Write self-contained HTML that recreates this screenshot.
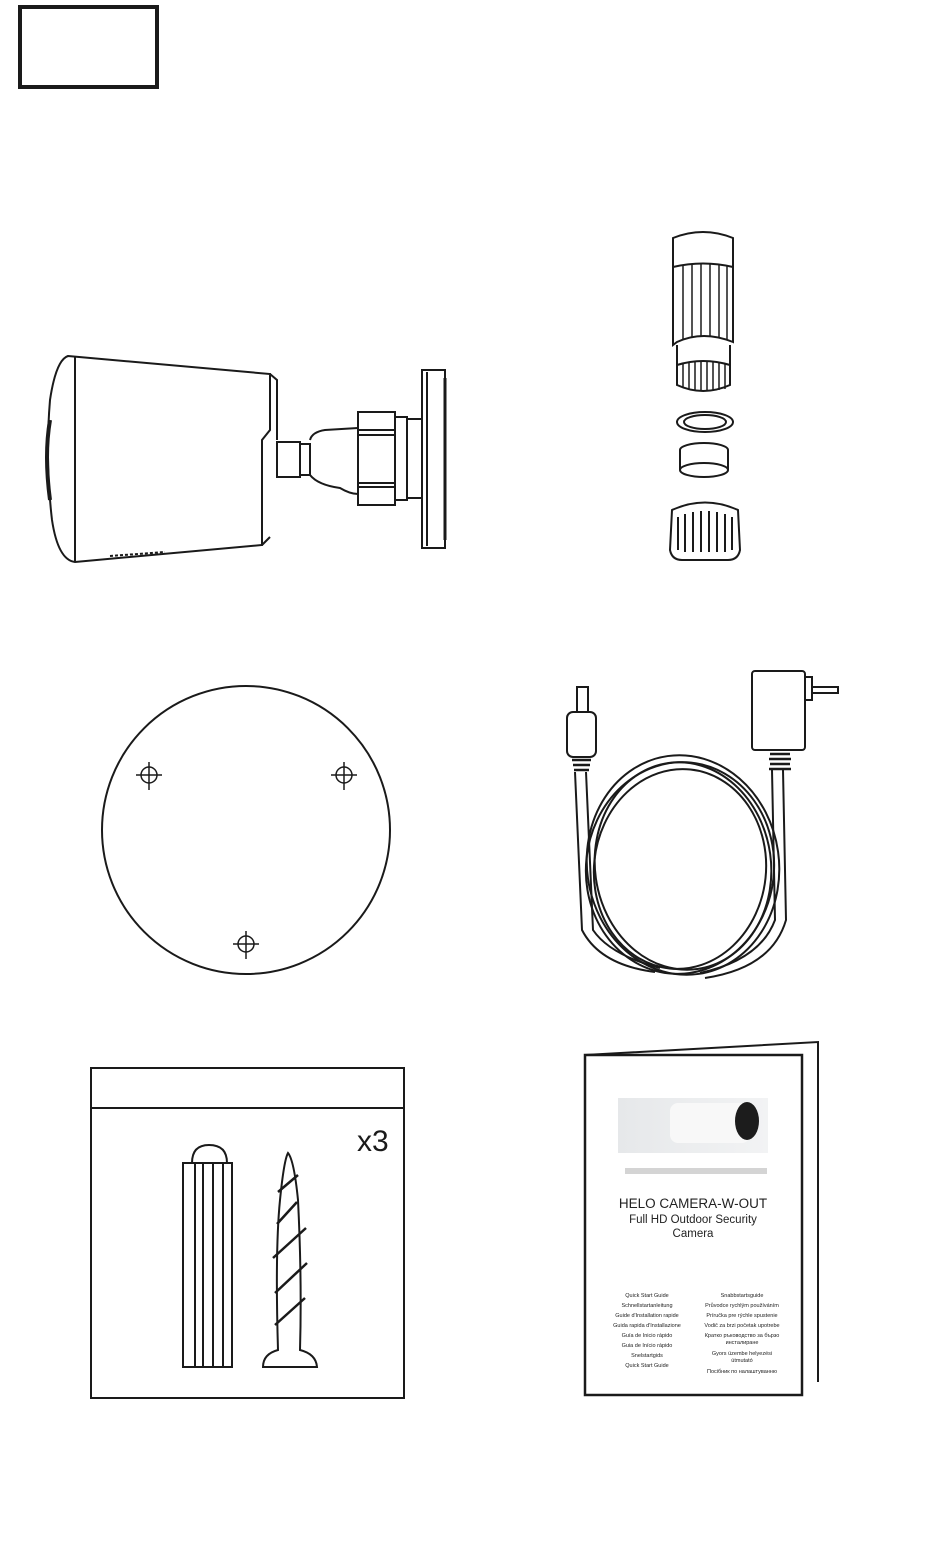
<!DOCTYPE html>
<html><head><meta charset="utf-8"><style>
html,body{margin:0;padding:0;background:#fff}
svg{display:block}
text{font-family:"Liberation Sans",sans-serif}
</style></head><body>
<svg width="950" height="1552" viewBox="0 0 950 1552" xmlns="http://www.w3.org/2000/svg" fill="none" stroke="#1a1a1a" stroke-width="2">
<rect x="20" y="7" width="137" height="80" stroke-width="4"/>

<!-- camera -->
<path d="M68,356 L270,374 L270,430 L262,440 L262,545 L75,562 Q58,560 52,520 Q45,460 50,400 Q56,360 68,356 Z"/>
<line x1="75" y1="357" x2="75" y2="561"/>
<path d="M270,374 L277,380 L277,440"/>
<path d="M270,537 L262,545"/>
<path d="M50,420 Q44,455 50,500" stroke-width="4"/>
<path d="M110,556 L165,552" stroke-width="2" stroke-dasharray="3,2"/>
<rect x="277" y="442" width="23" height="35"/>
<rect x="300" y="444" width="10" height="31"/>
<path d="M310,440 Q312,432 325,430 L358,428 M310,475 Q318,485 340,488 Q350,494 358,494"/>
<rect x="358" y="412" width="37" height="93"/>
<line x1="358" y1="430" x2="395" y2="430"/><line x1="358" y1="435" x2="395" y2="435"/>
<line x1="358" y1="483" x2="395" y2="483"/><line x1="358" y1="487" x2="395" y2="487"/>
<rect x="395" y="417" width="12" height="83"/>
<rect x="407" y="419" width="15" height="79"/>
<rect x="422" y="370" width="23" height="178"/>
<line x1="427" y1="372" x2="427" y2="546"/>
<line x1="445" y1="378" x2="445" y2="540" stroke-width="3"/>

<!-- connector -->
<path d="M673,267 L673,238 Q703,226 733,238 L733,267"/>
<path d="M673,267 Q703,260 733,267 L733,342 Q703,330 677,342 L673,345 Z"/>
<g stroke-width="1.5"><line x1="683" y1="266" x2="683" y2="340"/><line x1="692" y1="264" x2="692" y2="338"/><line x1="701" y1="263" x2="701" y2="336"/><line x1="710" y1="263" x2="710" y2="336"/><line x1="719" y1="264" x2="719" y2="338"/><line x1="727" y1="266" x2="727" y2="340"/></g>
<path d="M677,345 L677,385 Q703,397 730,385 L730,345"/>
<path d="M677,365 Q703,357 730,365"/>
<g stroke-width="1.5"><line x1="683" y1="364" x2="683" y2="388"/><line x1="689" y1="362" x2="689" y2="390"/><line x1="695" y1="361" x2="695" y2="391"/><line x1="701" y1="361" x2="701" y2="391"/><line x1="707" y1="361" x2="707" y2="391"/><line x1="713" y1="361" x2="713" y2="391"/><line x1="719" y1="362" x2="719" y2="390"/><line x1="725" y1="363" x2="725" y2="389"/></g>
<ellipse cx="705" cy="422" rx="28" ry="10"/><ellipse cx="705" cy="422" rx="21" ry="7"/>
<path d="M680,450 L680,470 A24,7 0 0 0 728,470 L728,450 A24,7 0 0 0 680,450 Z"/>
<path d="M680,470 A24,7 0 0 1 728,470"/>
<path d="M672,510 Q705,495 738,510 L740,550 Q738,560 728,560 L682,560 Q672,560 670,550 Z"/>
<g stroke-width="2"><line x1="678" y1="517" x2="678" y2="550"/><line x1="685" y1="514" x2="685" y2="552"/><line x1="693" y1="512" x2="693" y2="552"/><line x1="701" y1="511" x2="701" y2="552"/><line x1="709" y1="511" x2="709" y2="552"/><line x1="717" y1="512" x2="717" y2="552"/><line x1="725" y1="514" x2="725" y2="552"/><line x1="732" y1="517" x2="732" y2="550"/></g>

<!-- mount plate -->
<circle cx="246" cy="830" r="144"/>
<g stroke-width="1.5">
<circle cx="149" cy="775" r="8"/><line x1="136" y1="775" x2="162" y2="775"/><line x1="149" y1="762" x2="149" y2="790"/>
<circle cx="344" cy="775" r="8"/><line x1="331" y1="775" x2="357" y2="775"/><line x1="344" y1="762" x2="344" y2="790"/>
<circle cx="246" cy="944" r="8"/><line x1="233" y1="944" x2="259" y2="944"/><line x1="246" y1="931" x2="246" y2="959"/>
</g>

<!-- cable -->
<rect x="577" y="687" width="11" height="25"/>
<rect x="567" y="712" width="29" height="45" rx="6"/>
<g stroke-width="2.5"><line x1="572" y1="760" x2="591" y2="760"/><line x1="573" y1="765" x2="590" y2="765"/><line x1="574" y1="770" x2="589" y2="770"/></g>
<rect x="752" y="671" width="53" height="79" rx="3"/>
<rect x="805" y="677" width="7" height="23"/>
<rect x="812" y="687" width="26" height="6"/>
<g stroke-width="2.5"><line x1="770" y1="754" x2="790" y2="754"/><line x1="769" y1="759" x2="791" y2="759"/><line x1="770" y1="764" x2="790" y2="764"/><line x1="769" y1="769" x2="791" y2="769"/></g>
<path d="M575,772 L582,930 Q600,965 655,972"/>
<path d="M586,772 L593,930 Q610,955 660,968"/>
<path d="M772,770 L775,920 Q760,960 700,973"/>
<path d="M783,770 L786,920 Q772,968 705,978"/>
<ellipse cx="683" cy="865" rx="96" ry="110" transform="rotate(-8 683 865)"/>
<ellipse cx="683" cy="866" rx="88" ry="104" transform="rotate(-8 683 866)"/>
<ellipse cx="680" cy="868" rx="94" ry="106" transform="rotate(6 680 868)"/>
<ellipse cx="680" cy="869" rx="86" ry="100" transform="rotate(6 680 869)"/>

<!-- anchors -->
<rect x="91" y="1068" width="313" height="330"/>
<line x1="91" y1="1108" x2="404" y2="1108"/>
<text x="357" y="1151" font-size="30" fill="#1a1a1a" stroke="none">x3</text>
<path d="M192,1163 Q192,1145 209,1145 Q227,1145 227,1163"/>
<rect x="183" y="1163" width="49" height="204"/>
<line x1="195" y1="1163" x2="195" y2="1367"/><line x1="203" y1="1163" x2="203" y2="1367"/><line x1="213" y1="1163" x2="213" y2="1367"/><line x1="223" y1="1163" x2="223" y2="1367"/>
<path d="M278,1350 Q275,1250 280,1200 Q284,1160 288,1153 Q294,1160 298,1200 Q302,1280 300,1350 Q316,1354 317,1367 L263,1367 Q263,1354 278,1350 Z"/>
<g stroke-width="2.5"><line x1="278" y1="1192" x2="298" y2="1175"/><line x1="277" y1="1224" x2="297" y2="1202"/><line x1="273" y1="1258" x2="306" y2="1228"/><line x1="275" y1="1293" x2="307" y2="1263"/><line x1="275" y1="1325" x2="305" y2="1298"/></g>

<!-- booklet -->
<path d="M585,1055 L818,1042 L818,1382"/>
<rect x="585" y="1055" width="217" height="340" stroke-width="2.5"/>
<defs><linearGradient id="g" x1="0" x2="1"><stop offset="0" stop-color="#e6e8ea"/><stop offset="1" stop-color="#f2f3f4"/></linearGradient></defs>
<g stroke="none">
<rect x="618" y="1098" width="150" height="55" fill="url(#g)"/>
<rect x="670" y="1103" width="80" height="40" rx="8" fill="#f8f8f8"/>
<ellipse cx="747" cy="1121" rx="12" ry="19" fill="#1c1c1c"/>
<rect x="625" y="1168" width="142" height="6" fill="#b8b8b8" opacity=".6"/>
<text x="693" y="1208" font-size="13.5" text-anchor="middle" fill="#222">HELO CAMERA-W-OUT</text>
<text x="693" y="1223" font-size="11.5" text-anchor="middle" fill="#222">Full HD Outdoor Security</text>
<text x="693" y="1237" font-size="11.5" text-anchor="middle" fill="#222">Camera</text>
<g font-size="5.5" fill="#222" text-anchor="middle">
<text x="647" y="1297">Quick Start Guide</text>
<text x="647" y="1307">Schnellstartanleitung</text>
<text x="647" y="1317">Guide d'Installation rapide</text>
<text x="647" y="1327">Guida rapida d'Installazione</text>
<text x="647" y="1337">Guía de Inicio rápido</text>
<text x="647" y="1347">Guia de Início rápido</text>
<text x="647" y="1357">Snelstartgids</text>
<text x="647" y="1367">Quick Start Guide</text>
<text x="742" y="1297">Snabbstartsguide</text>
<text x="742" y="1307">Průvodce rychlým používáním</text>
<text x="742" y="1317">Príručka pre rýchle spustenie</text>
<text x="742" y="1327">Vodič za brzi početak upotrebe</text>
<text x="742" y="1337">Кратко ръководство за бързо</text>
<text x="742" y="1344">инсталиране</text>
<text x="742" y="1355">Gyors üzembe helyezési</text>
<text x="742" y="1362">útmutató</text>
<text x="742" y="1373">Посібник по налаштуванню</text>
</g>
</g>
</svg>
</body></html>
